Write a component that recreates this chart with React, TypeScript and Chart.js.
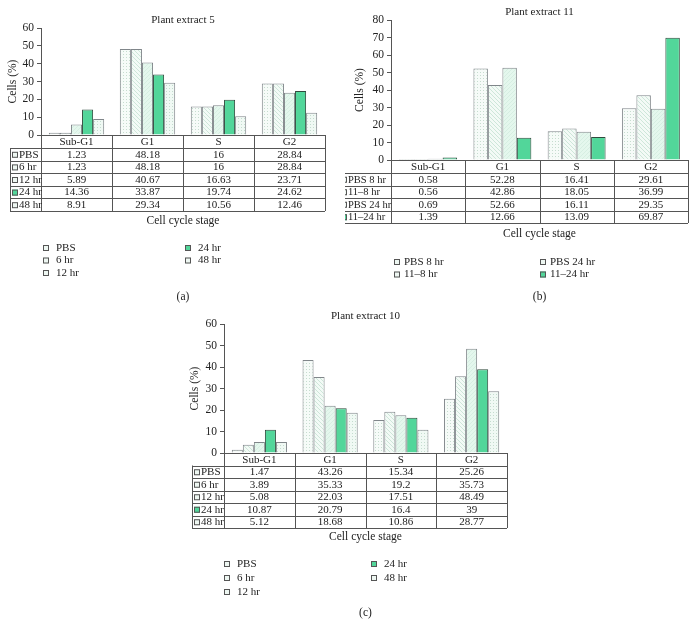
import React, { useEffect, useRef } from "react";
import { Chart, registerables } from "chart.js";

Chart.register(...registerables);

// ---------- DATA ----------
const categories = ["Sub-G1", "G1", "S", "G2"];

// Panel (a) Plant extract 5
const seriesA = ["PBS", "6 hr", "12 hr", "24 hr", "48 hr"];
const a_PBS = [1.23, 48.18, 16, 28.84];
const a_6hr = [1.23, 48.18, 16, 28.84];
const a_12hr = [5.89, 40.67, 16.63, 23.71];
const a_24hr = [14.36, 33.87, 19.74, 24.62];
const a_48hr = [8.91, 29.34, 10.56, 12.46];

// Panel (b) Plant extract 11
const seriesB = ["PBS 8 hr", "11–8 hr", "PBS 24 hr", "11–24 hr"];
const b_PBS8 = [0.58, 52.28, 16.41, 29.61];
const b_11_8 = [0.56, 42.86, 18.05, 36.99];
const b_PBS24 = [0.69, 52.66, 16.11, 29.35];
const b_11_24 = [1.39, 12.66, 13.09, 69.87];

// Panel (c) Plant extract 10
const seriesC = ["PBS", "6 hr", "12 hr", "24 hr", "48 hr"];
const c_PBS = [1.47, 43.26, 15.34, 25.26];
const c_6hr = [3.89, 35.33, 19.2, 35.73];
const c_12hr = [5.08, 22.03, 17.51, 48.49];
const c_24hr = [10.87, 20.79, 16.4, 39];
const c_48hr = [5.12, 18.68, 10.86, 28.77];

const yTicksA = { max: 60, step: 10 };
const yTicksB = { max: 80, step: 10 };
const yTicksC = { max: 60, step: 10 };

const FONT = "'Liberation Serif', 'DejaVu Serif', serif";
const GREEN = "#52d69a";

type Kind = "dots" | "hatch" | "mint" | "grid" | "green";

function makePattern(kind: Kind): CanvasPattern | string {
  if (kind === "green") return GREEN;
  const c = document.createElement("canvas");
  const s = kind === "hatch" || kind === "mint" ? 4 : 3;
  c.width = s;
  c.height = s;
  const g = c.getContext("2d")!;
  if (kind === "dots") {
    g.fillStyle = "#f6fbf8";
    g.fillRect(0, 0, s, s);
    g.fillStyle = "#c6dccf";
    g.fillRect(0, 0, 1, 1);
  } else if (kind === "hatch") {
    g.fillStyle = "#f3faf6";
    g.fillRect(0, 0, s, s);
    g.fillStyle = "#cde6d9";
    for (let i = 0; i < s; i++) g.fillRect(i, i, 1, 1);
  } else if (kind === "mint") {
    g.fillStyle = "#e4f7ed";
    g.fillRect(0, 0, s, s);
    g.fillStyle = "#d6eee2";
    for (let i = 0; i < s; i++) g.fillRect(s - 1 - i, i, 1, 1);
  } else {
    g.fillStyle = "#f0f9f4";
    g.fillRect(0, 0, s, s);
    g.fillStyle = "#c4dccf";
    g.fillRect(1, 1, 1, 1);
  }
  return g.createPattern(c, "repeat")!;
}

interface PanelCfg {
  left: number;
  top: number;
  width: number;
  height: number;
  plotLeft: number;
  plotRight: number;
  plotTop: number;
  plotBottom: number;
  ticks: { max: number; step: number };
  title: string;
  titleY: number;
  yTitleX: number;
  labelColLeft: number;
  labelFont: number;
  headerH: number;
  rowH: number;
  xTitleY: number;
  legendCol1: number;
  legendCol2: number;
  legendY0: number;
  legendDy: number;
  legendTextDx: number;
  panelLabel: string;
  panelLabelY: number;
  series: string[];
  values: number[][];
  kinds: Kind[];
}

const panels: PanelCfg[] = [
  {
    left: 0, top: 0, width: 345, height: 310,
    plotLeft: 41, plotRight: 325, plotTop: 28, plotBottom: 135,
    ticks: yTicksA, title: "Plant extract 5", titleY: 20, yTitleX: 13,
    labelColLeft: 10, labelFont: 11, headerH: 13, rowH: 12.6, xTitleY: 221,
    legendCol1: 43, legendCol2: 185, legendY0: 248, legendDy: 12.5, legendTextDx: 13,
    panelLabel: "(a)", panelLabelY: 297,
    series: seriesA, values: [a_PBS, a_6hr, a_12hr, a_24hr, a_48hr],
    kinds: ["dots", "hatch", "mint", "green", "grid"],
  },
  {
    left: 345, top: 0, width: 351, height: 310,
    plotLeft: 46, plotRight: 343, plotTop: 20, plotBottom: 160,
    ticks: yTicksB, title: "Plant extract 11", titleY: 12, yTitleX: 15,
    labelColLeft: -6, labelFont: 10.5, headerH: 13, rowH: 12.5, xTitleY: 234,
    legendCol1: 49, legendCol2: 195, legendY0: 262, legendDy: 12.5, legendTextDx: 10,
    panelLabel: "(b)", panelLabelY: 297,
    series: seriesB, values: [b_PBS8, b_11_8, b_PBS24, b_11_24],
    kinds: ["dots", "hatch", "mint", "green"],
  },
  {
    left: 150, top: 300, width: 400, height: 325,
    plotLeft: 74, plotRight: 357, plotTop: 24, plotBottom: 153,
    ticks: yTicksC, title: "Plant extract 10", titleY: 16, yTitleX: 45,
    labelColLeft: 42, labelFont: 11, headerH: 12.5, rowH: 12.5, xTitleY: 237,
    legendCol1: 74, legendCol2: 221, legendY0: 264, legendDy: 14, legendTextDx: 13,
    panelLabel: "(c)", panelLabelY: 313,
    series: seriesC, values: [c_PBS, c_6hr, c_12hr, c_24hr, c_48hr],
    kinds: ["dots", "hatch", "mint", "green", "grid"],
  },
];

const Y_AXIS_W = 30;

function swatch(ctx: CanvasRenderingContext2D, x: number, y: number, kind: Kind) {
  ctx.fillStyle = kind === "green" ? GREEN : "#eef7f2";
  ctx.fillRect(x, y - 3, 6, 6);
  ctx.strokeStyle = "#555";
  ctx.lineWidth = 1;
  ctx.strokeRect(x + 0.5, y - 2.5, 5, 5);
}

function makeOverlay(cfg: PanelCfg) {
  return {
    id: "overlay",
    afterDraw(chart: any) {
      const ctx: CanvasRenderingContext2D = chart.ctx;
      const area = chart.chartArea;
      const xs = chart.scales.x;
      const n = categories.length;
      const catW = (area.right - area.left) / n;
      const cx = (i: number) => xs.getPixelForValue(i);
      const midX = (area.left + area.right) / 2;
      ctx.save();
      ctx.fillStyle = "#222";
      ctx.textBaseline = "middle";
      ctx.textAlign = "center";
      ctx.font = `11px ${FONT}`;
      ctx.fillText(cfg.title, midX, cfg.titleY);
      ctx.save();
      ctx.translate(cfg.yTitleX, (area.top + area.bottom) / 2);
      ctx.rotate(-Math.PI / 2);
      ctx.font = `11.5px ${FONT}`;
      ctx.fillText("Cells (%)", 0, 0);
      ctx.restore();

      const top = area.bottom;
      const hdrB = top + cfg.headerH;
      const rows = cfg.series.length;
      const bottom = hdrB + rows * cfg.rowH;
      ctx.strokeStyle = "#555";
      ctx.lineWidth = 1;
      const hl = (x1: number, x2: number, y: number) => {
        ctx.beginPath();
        ctx.moveTo(x1, Math.round(y) + 0.5);
        ctx.lineTo(x2, Math.round(y) + 0.5);
        ctx.stroke();
      };
      const vl = (x: number, y1: number, y2: number) => {
        ctx.beginPath();
        ctx.moveTo(Math.round(x) + 0.5, y1);
        ctx.lineTo(Math.round(x) + 0.5, y2);
        ctx.stroke();
      };
      hl(area.left, area.right, top);
      hl(cfg.labelColLeft, area.right, hdrB);
      for (let r = 1; r <= rows; r++) hl(cfg.labelColLeft, area.right, hdrB + r * cfg.rowH);
      vl(cfg.labelColLeft, hdrB, bottom);
      for (let i = 0; i <= n; i++) vl(area.left + i * catW, top, bottom);

      ctx.fillStyle = "#222";
      ctx.font = `11px ${FONT}`;
      categories.forEach((c, i) => ctx.fillText(c, cx(i), top + cfg.headerH / 2 + 0.5));
      cfg.series.forEach((s, r) => {
        const y = hdrB + r * cfg.rowH + cfg.rowH / 2 + 0.5;
        swatch(ctx, cfg.labelColLeft + 2, y, cfg.kinds[r]);
        ctx.fillStyle = "#222";
        ctx.textAlign = "left";
        ctx.font = `${cfg.labelFont}px ${FONT}`;
        ctx.fillText(s, cfg.labelColLeft + 9, y);
        ctx.font = `11px ${FONT}`;
        ctx.textAlign = "center";
        cfg.values[r].forEach((v, i) => ctx.fillText(String(v), cx(i), y));
      });

      ctx.font = `11.5px ${FONT}`;
      ctx.fillText("Cell cycle stage", midX, cfg.xTitleY);

      ctx.font = `11px ${FONT}`;
      const half = Math.ceil(cfg.series.length / 2);
      cfg.series.forEach((s, k) => {
        const col = k < half ? 0 : 1;
        const row = col === 0 ? k : k - half;
        const x = col === 0 ? cfg.legendCol1 : cfg.legendCol2;
        const y = cfg.legendY0 + row * cfg.legendDy;
        swatch(ctx, x, y, cfg.kinds[k]);
        ctx.fillStyle = "#222";
        ctx.textAlign = "left";
        ctx.fillText(s, x + cfg.legendTextDx, y);
      });

      ctx.textAlign = "center";
      ctx.font = `11.5px ${FONT}`;
      ctx.fillText(cfg.panelLabel, midX, cfg.panelLabelY);
      ctx.restore();
    },
  };
}

function Panel({ cfg }: { cfg: PanelCfg }) {
  const ref = useRef<HTMLCanvasElement>(null);
  useEffect(() => {
    const canvas = ref.current!;
    const datasets = cfg.series.map((s, k) => ({
      label: s,
      data: cfg.values[k],
      backgroundColor: makePattern(cfg.kinds[k]),
      borderColor: cfg.kinds[k] === "green" ? "#2e4a3c" : "#80868a",
      borderWidth: 1,
      categoryPercentage: 0.78,
      barPercentage: 1.0,
    }));
    const chart = new Chart(canvas, {
      type: "bar",
      data: { labels: categories, datasets },
      options: {
        animation: false,
        responsive: false,
        devicePixelRatio: 1,
        layout: {
          padding: {
            left: cfg.plotLeft - Y_AXIS_W,
            right: cfg.width - cfg.plotRight,
            top: cfg.plotTop,
            bottom: cfg.height - cfg.plotBottom,
          },
        },
        plugins: {
          legend: { display: false },
          tooltip: { enabled: false },
          title: { display: false },
        },
        scales: {
          x: { display: false, offset: true },
          y: {
            min: 0,
            max: cfg.ticks.max,
            afterFit: (scale: any) => {
              scale.width = Y_AXIS_W;
            },
            ticks: {
              stepSize: cfg.ticks.step,
              color: "#222",
              padding: 3,
              font: { family: FONT, size: 11.5 },
            },
            grid: {
              drawOnChartArea: false,
              drawTicks: true,
              tickLength: 4,
              color: "#555",
            },
            border: { display: true, color: "#555" },
          },
        },
      },
      plugins: [makeOverlay(cfg)],
    } as any);
    return () => chart.destroy();
  }, [cfg]);
  return (
    <canvas
      ref={ref}
      width={cfg.width}
      height={cfg.height}
      style={{
        position: "absolute",
        left: cfg.left,
        top: cfg.top,
        width: cfg.width,
        height: cfg.height,
      }}
    />
  );
}

export default function App() {
  return (
    <div
      style={{
        position: "absolute",
        left: 0,
        top: 0,
        width: 696,
        height: 625,
        background: "#fff",
        overflow: "hidden",
      }}
    >
      {panels.map((p, i) => (
        <Panel key={i} cfg={p} />
      ))}
    </div>
  );
}
